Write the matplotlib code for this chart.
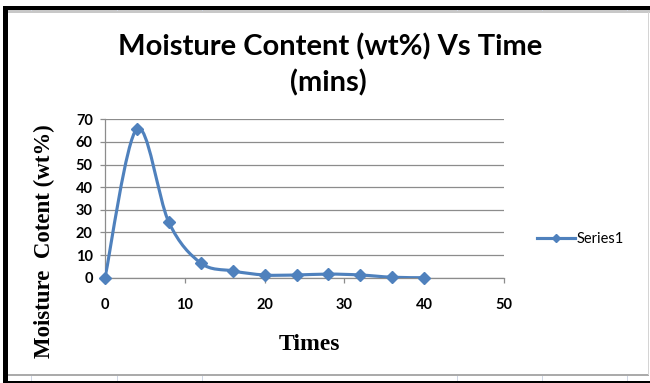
import numpy as np
import matplotlib
matplotlib.use("Agg")
import matplotlib.pyplot as plt
from matplotlib.path import Path
from matplotlib.patches import PathPatch, Rectangle
from matplotlib.lines import Line2D

# Drying run: sample times (mins) and moisture content (wt%)
times = [0, 4, 8, 12, 16, 20, 24, 28, 32, 36, 40]
moisture = [0.0, 65.8, 24.5, 6.5, 3.0, 1.2, 1.2, 1.6, 1.2, 0.2, 0.0]
series_name = "Series1"
x_ticks = [0, 10, 20, 30, 40, 50]
y_ticks = [0, 10, 20, 30, 40, 50, 60, 70]

W, H = 650, 383
BLUE = "#4F81BD"
GRID = "#8C8C8C"


def fx(px):
    return px / W


def fy(py):
    return 1 - py / H


def smooth_path(xs, ys):
    # Excel style smoothed line: cubic Bezier through every point
    pts = np.column_stack([xs, ys]).astype(float)
    n = len(pts)
    verts = [pts[0]]
    codes = [Path.MOVETO]
    for i in range(n - 1):
        p_prev = pts[max(i - 1, 0)]
        p0, p1 = pts[i], pts[i + 1]
        p_next = pts[min(i + 2, n - 1)]
        c1 = p0 + (p1 - p_prev) / 6.0
        c2 = p1 - (p_next - p0) / 6.0
        verts += [c1, c2, p1]
        codes += [Path.CURVE4] * 3
    return Path(verts, codes)


fig = plt.figure(figsize=(W / 100, H / 100), dpi=100)
fig.patch.set_facecolor("white")

ax = fig.add_axes([fx(105), fy(277.7), fx(504) - fx(105), fy(119.3) - fy(277.7)])
ax.set_xlim(0, 50)
ax.set_ylim(0, 70)
ax.set_xticks(x_ticks)
ax.set_yticks(y_ticks)
ax.grid(axis="y", color=GRID, linewidth=0.9)
ax.set_axisbelow(True)
for side in ["top", "right"]:
    ax.spines[side].set_visible(False)
for side in ["left", "bottom"]:
    ax.spines[side].set_color(GRID)
    ax.spines[side].set_linewidth(0.9)
ax.tick_params(axis="both", direction="out", length=3.8, width=0.9, color=GRID,
               labelsize=10.5, labelcolor="black")
ax.tick_params(axis="x", pad=11)
ax.tick_params(axis="y", pad=5)
for lab in ax.get_xticklabels() + ax.get_yticklabels():
    lab.set_fontfamily("Lato")
    lab.set_fontweight("bold")

ax.add_patch(PathPatch(smooth_path(times, moisture), fill=False, edgecolor=BLUE,
                       linewidth=2.25, capstyle="round", joinstyle="round", zorder=3))
ax.plot(times, moisture, linestyle="none", marker="D", markersize=6.2,
        color=BLUE, markeredgecolor=BLUE, zorder=4, clip_on=False)

handle = Line2D([], [], color=BLUE, linewidth=2.25, marker="D", markersize=4.5)
ax.legend([handle], [series_name], loc="center left", frameon=False,
          bbox_to_anchor=(fx(537), fy(239)), bbox_transform=fig.transFigure,
          handlelength=2.6, handletextpad=0.1, borderpad=0, borderaxespad=0,
          prop={"family": "Lato", "size": 10.5})

# Titles and axis labels
fig.text(fx(330), fy(55), "Moisture Content (wt%) Vs Time", ha="center", va="baseline",
         fontsize=21, fontweight="bold", family="Lato")
fig.text(fx(328), fy(91), "(mins)", ha="center", va="baseline",
         fontsize=21, fontweight="bold", family="Lato")
fig.text(fx(309), fy(345), "Times", ha="center", va="center",
         fontsize=17, fontweight="bold", family="Liberation Serif")
fig.text(fx(44), fy(241), "Moisture  Cotent (wt%)", ha="center", va="center",
         rotation=90, fontsize=16.5, fontweight="bold", family="Liberation Serif")

# Chart frame and the sheet edges around it
def rect(x0, y0, x1, y1, color):
    fig.add_artist(Rectangle((fx(x0), fy(y1)), fx(x1) - fx(x0), fy(y0) - fy(y1),
                             transform=fig.transFigure, facecolor=color,
                             edgecolor="none", zorder=10))


rect(3, 6, 8, 383, "black")
rect(3, 6, 650, 10, "black")
rect(3, 381, 650, 383, "black")
rect(8, 10.5, 650, 12.5, "#C8C8C8")
rect(8, 374, 649, 376, "#ABABAB")
rect(647.5, 12, 649, 375, "#D4D4D4")
for cx in [31, 117, 202, 286, 372, 457, 542, 627]:
    rect(cx - 0.5, 376, cx + 0.5, 381, "#D0D7E5")
    rect(cx - 0.5, 10, cx + 0.5, 11, "#D0D7E5")

fig.savefig("out.png", dpi=100)
